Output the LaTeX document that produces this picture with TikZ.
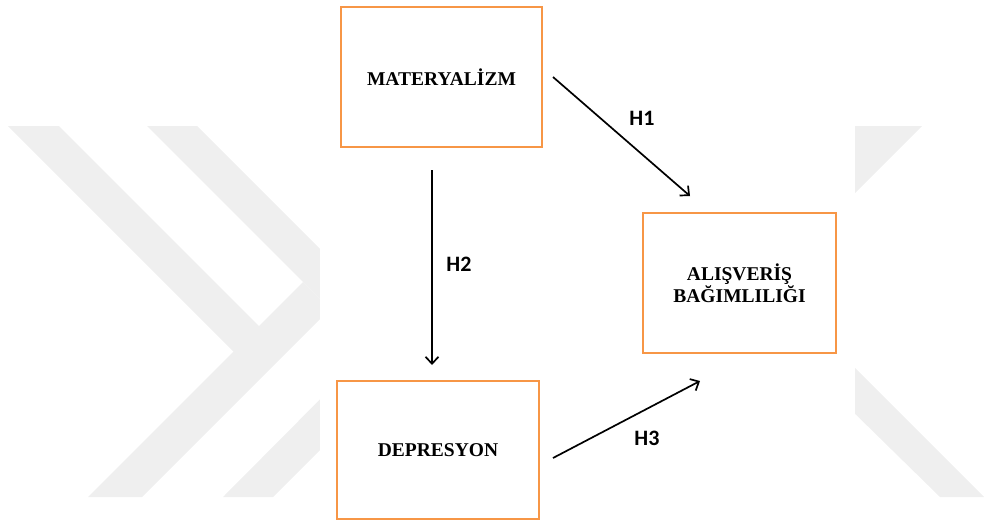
\documentclass[tikz,border=0pt]{standalone}
\usepackage{fontspec}
\setmainfont{Liberation Serif}
\newfontfamily\labelfont{Carlito}
\usetikzlibrary{arrows.meta}
\definecolor{boxorange}{RGB}{247,150,70}
\definecolor{wmgray}{RGB}{239,239,239}
\begin{document}
\begin{tikzpicture}[x=1pt,y=-1pt,
  varbox/.style={draw=boxorange, line width=2.4pt, inner sep=0pt, align=center,
    font=\bfseries\fontsize{19.5}{22}\selectfont},
  hyp/.style={font=\labelfont\bfseries\fontsize{22}{26}\selectfont, inner sep=0pt},
  link/.style={line width=1.7pt, -{Straight Barb[length=7pt,width=13pt]}},
  wm/.style={fill=wmgray}]
\useasboundingbox (0,0) rectangle (984,522);
% watermark
\fill[wm] (8,126) -- (59,126) -- (259,326) -- (303,282) -- (330,309) -- (142,497) -- (88,497) -- (233.5,351.5) -- cycle;
\fill[wm] (147,126) -- (197,126) -- (420.5,349.5) -- (273,497) -- (223,497) -- (370,349) -- cycle;
\fill[wm] (922,126) -- (700,126) -- (700,348) -- cycle;
\fill[wm] (700,213) -- (984,497) -- (940,497) -- (700,262) -- cycle;
\fill[white] (320,0) rectangle (855,522);
% boxes
\node[varbox, minimum width=201pt, minimum height=140pt] (mat) at (441.5,77) {MATERYALİZM};
\node[varbox, minimum width=193pt, minimum height=140pt] (alis) at (739.5,283) {ALIŞVERİŞ\\BAĞIMLILIĞI};
\node[varbox, minimum width=202pt, minimum height=138pt] (dep) at (438,450) {DEPRESYON};
% connectors
\coordinate (h1s) at (553,77);
\coordinate (h1e) at (690,196);
\coordinate (h2s) at (432,170);
\coordinate (h2e) at (432,365);
\coordinate (h3s) at (553,458);
\coordinate (h3e) at (700,381);
\draw[link] (h1s) -- (h1e);
\draw[link] (h2s) -- (h2e);
\draw[link] (h3s) -- (h3e);
% labels
\node[hyp] (lh1) at (642,118) {H1};
\node[hyp] (lh2) at (459,264) {H2};
\node[hyp] (lh3) at (647,438) {H3};
\end{tikzpicture}
\end{document}
